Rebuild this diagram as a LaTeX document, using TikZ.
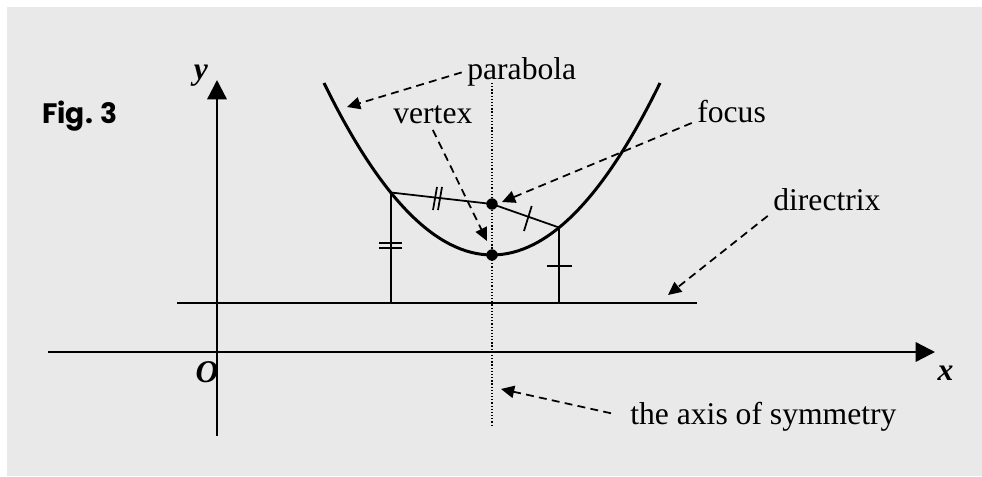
\documentclass[tikz,border=0pt]{standalone}
\usepackage{fontspec}
\setmainfont{Liberation Serif}
\newfontfamily\figfont{Poppins}
\usepackage{tikz}
\usetikzlibrary{arrows.meta}
\usepackage{xcolor}
\definecolor{panelgray}{RGB}{233,233,233}

\begin{document}
\begin{tikzpicture}[x=0.02cm,y=-0.02cm,
  lbl/.style={inner sep=3pt,anchor=base west,font=\fontsize{18}{21}\selectfont},
  var/.style={inner sep=0pt,font=\fontsize{18}{21}\selectfont\bfseries\itshape},
  axis/.style={line width=1.3pt,-{Triangle[length=11pt,width=11pt]}},
  pointer/.style={line width=1pt,dash pattern=on 4.5pt off 3pt,-{Triangle[length=7.5pt,width=7pt]}},
  thinline/.style={line width=1pt},
  dot/.style={circle,fill=black,inner sep=0pt,minimum size=6.5pt}
]
\useasboundingbox (0,0) rectangle (982,476);
\fill[panelgray] (7,7) rectangle (982,476);

% axes
\coordinate (xstart) at (48,352);
\coordinate (xend) at (935,352);
\coordinate (ystart) at (217,436);
\coordinate (yend) at (217,80);
\draw[axis] (xstart) -- (xend);
\draw[axis] (ystart) -- (yend);
\node[var] (xlbl) at (945.5,373.5) {x};
\node[var] (ylbl) at (201,76) {y};
\node[var] (olbl) at (207,372) {O};
\node[lbl,font=\figfont\fontsize{16}{19}\selectfont\bfseries] (fig) at (36.7,124) {Fig. 3};

% axis of symmetry
\coordinate (symtop) at (492,83);
\coordinate (symbot) at (492,427);
\draw[line width=0.7pt,dash pattern=on 0.7pt off 1.1pt] (symtop) -- (symbot);

% directrix
\coordinate (dirL) at (177,303);
\coordinate (dirR) at (697,303);
\draw[line width=1.7pt] (dirL) -- (dirR);

% parabola
\coordinate (parL) at (324,83);
\coordinate (parR) at (660,83);
\draw[line width=1.7pt] (parL) .. controls (436,312.3) and (548,312.3) .. (parR);

% points, distances
\coordinate (P) at (391,192.5);
\coordinate (Q) at (559,227.5);
\coordinate (Pd) at (391,303);
\coordinate (Qd) at (559,303);
\node[dot] (focus pt) at (492,204) {};
\node[dot] (vertex pt) at (492,255) {};
\draw[thinline] (P) -- (focus pt.center) -- (Q);
\draw[thinline] (P) -- (Pd);
\draw[thinline] (Q) -- (Qd);

% equal marks
\draw[thinline] (379,243) -- (402,243);
\draw[thinline] (379,248) -- (402,248);
\draw[thinline] (547,266) -- (572,266);
\draw[thinline] (433,210) -- (437,187);
\draw[thinline] (438,210) -- (442,187);
\draw[thinline] (524,231) -- (531.7,206);

% labels
\node[lbl] (parabola) at (461.7,80) {parabola};
\node[lbl] (vertex) at (387.7,124) {vertex};
\node[lbl] (focus) at (691.7,123) {focus};
\node[lbl] (directrix) at (767.7,210) {directrix};
\node[lbl] (symaxis) at (624.7,424) {the axis of symmetry};

\coordinate (parabola tip) at (347,107);
\coordinate (vertex tip) at (487,241);
\coordinate (focus tip) at (502,202);
\coordinate (directrix tip) at (668,295);
\coordinate (symaxis tip) at (501,389);
\draw[pointer] (parabola.west) -- (parabola tip);
\draw[pointer] (vertex.south) -- (vertex tip);
\draw[pointer] (focus.base west) -- (focus tip);
\draw[pointer] (directrix.south west) -- (directrix tip);
\draw[pointer,shorten <=8pt] (symaxis.west) -- (symaxis tip);
\end{tikzpicture}
\end{document}
